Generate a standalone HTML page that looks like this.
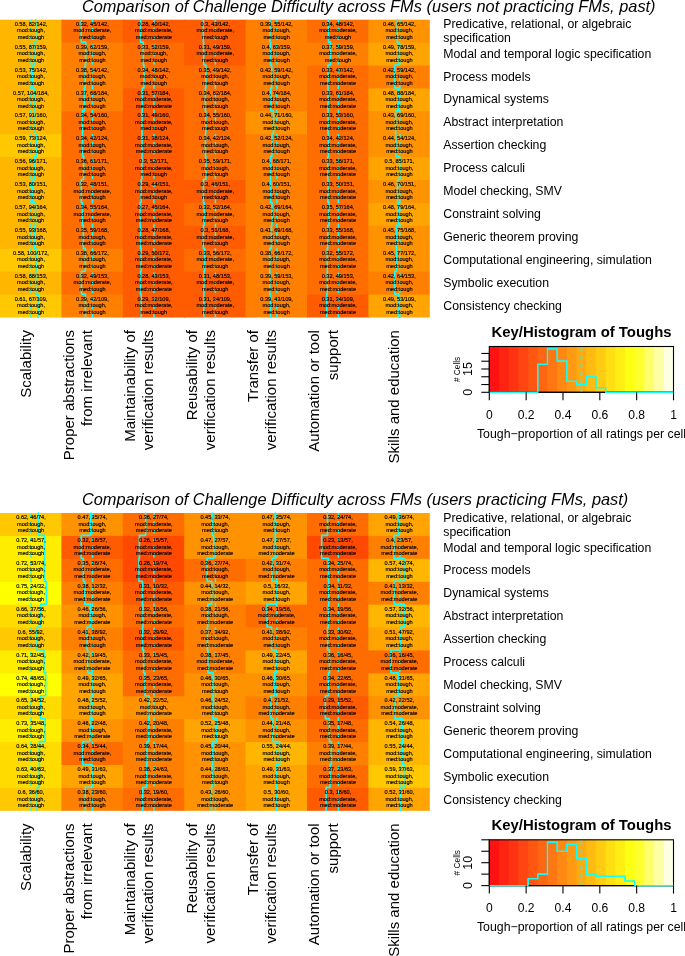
<!DOCTYPE html>
<html><head><meta charset="utf-8"><style>
html,body{margin:0;padding:0;background:#fff;width:685px;height:956px;overflow:hidden}
svg{display:block;font-family:"Liberation Sans",sans-serif;will-change:transform}
</style></head><body>
<svg width="685" height="956" viewBox="0 0 685 956" font-family='"Liberation Sans", sans-serif'>
<rect width="685" height="956" fill="#fff"/>
<text x="81.9" y="11.6" font-size="16.36" font-style="italic">Comparison of Challenge Difficulty across FMs (users not practicing FMs, past)</text>
<rect x="0" y="19.7" width="62.4" height="23.91" fill="#FFB600"/>
<rect x="61.4" y="19.7" width="62.4" height="23.91" fill="#FF6D00"/>
<rect x="122.8" y="19.7" width="62.4" height="23.91" fill="#FF5B00"/>
<rect x="184.2" y="19.7" width="62.4" height="23.91" fill="#FF5B00"/>
<rect x="245.6" y="19.7" width="62.4" height="23.91" fill="#FF8000"/>
<rect x="307" y="19.7" width="62.4" height="23.91" fill="#FF6D00"/>
<rect x="368.4" y="19.7" width="61.4" height="23.91" fill="#FF9200"/>
<rect x="0" y="42.61" width="62.4" height="23.91" fill="#FFB600"/>
<rect x="61.4" y="42.61" width="62.4" height="23.91" fill="#FF8000"/>
<rect x="122.8" y="42.61" width="62.4" height="23.91" fill="#FF6D00"/>
<rect x="184.2" y="42.61" width="62.4" height="23.91" fill="#FF5B00"/>
<rect x="245.6" y="42.61" width="62.4" height="23.91" fill="#FF8000"/>
<rect x="307" y="42.61" width="62.4" height="23.91" fill="#FF8000"/>
<rect x="368.4" y="42.61" width="61.4" height="23.91" fill="#FFA400"/>
<rect x="0" y="65.52" width="62.4" height="23.91" fill="#FFB600"/>
<rect x="61.4" y="65.52" width="62.4" height="23.91" fill="#FF8000"/>
<rect x="122.8" y="65.52" width="62.4" height="23.91" fill="#FF6D00"/>
<rect x="184.2" y="65.52" width="62.4" height="23.91" fill="#FF6D00"/>
<rect x="245.6" y="65.52" width="62.4" height="23.91" fill="#FF8000"/>
<rect x="307" y="65.52" width="62.4" height="23.91" fill="#FF6D00"/>
<rect x="368.4" y="65.52" width="61.4" height="23.91" fill="#FF8000"/>
<rect x="0" y="88.42" width="62.4" height="23.91" fill="#FFB600"/>
<rect x="61.4" y="88.42" width="62.4" height="23.91" fill="#FF8000"/>
<rect x="122.8" y="88.42" width="62.4" height="23.91" fill="#FF5B00"/>
<rect x="184.2" y="88.42" width="62.4" height="23.91" fill="#FF6D00"/>
<rect x="245.6" y="88.42" width="62.4" height="23.91" fill="#FF8000"/>
<rect x="307" y="88.42" width="62.4" height="23.91" fill="#FF6D00"/>
<rect x="368.4" y="88.42" width="61.4" height="23.91" fill="#FFA400"/>
<rect x="0" y="111.33" width="62.4" height="23.91" fill="#FFB600"/>
<rect x="61.4" y="111.33" width="62.4" height="23.91" fill="#FF6D00"/>
<rect x="122.8" y="111.33" width="62.4" height="23.91" fill="#FF5B00"/>
<rect x="184.2" y="111.33" width="62.4" height="23.91" fill="#FF6D00"/>
<rect x="245.6" y="111.33" width="62.4" height="23.91" fill="#FF9200"/>
<rect x="307" y="111.33" width="62.4" height="23.91" fill="#FF6D00"/>
<rect x="368.4" y="111.33" width="61.4" height="23.91" fill="#FF9200"/>
<rect x="0" y="134.24" width="62.4" height="23.91" fill="#FFC800"/>
<rect x="61.4" y="134.24" width="62.4" height="23.91" fill="#FF6D00"/>
<rect x="122.8" y="134.24" width="62.4" height="23.91" fill="#FF5B00"/>
<rect x="184.2" y="134.24" width="62.4" height="23.91" fill="#FF6D00"/>
<rect x="245.6" y="134.24" width="62.4" height="23.91" fill="#FF8000"/>
<rect x="307" y="134.24" width="62.4" height="23.91" fill="#FF6D00"/>
<rect x="368.4" y="134.24" width="61.4" height="23.91" fill="#FF9200"/>
<rect x="0" y="157.15" width="62.4" height="23.91" fill="#FFB600"/>
<rect x="61.4" y="157.15" width="62.4" height="23.91" fill="#FF6D00"/>
<rect x="122.8" y="157.15" width="62.4" height="23.91" fill="#FF5B00"/>
<rect x="184.2" y="157.15" width="62.4" height="23.91" fill="#FF6D00"/>
<rect x="245.6" y="157.15" width="62.4" height="23.91" fill="#FF8000"/>
<rect x="307" y="157.15" width="62.4" height="23.91" fill="#FF6D00"/>
<rect x="368.4" y="157.15" width="61.4" height="23.91" fill="#FFA400"/>
<rect x="0" y="180.05" width="62.4" height="23.91" fill="#FFB600"/>
<rect x="61.4" y="180.05" width="62.4" height="23.91" fill="#FF6D00"/>
<rect x="122.8" y="180.05" width="62.4" height="23.91" fill="#FF5B00"/>
<rect x="184.2" y="180.05" width="62.4" height="23.91" fill="#FF5B00"/>
<rect x="245.6" y="180.05" width="62.4" height="23.91" fill="#FF8000"/>
<rect x="307" y="180.05" width="62.4" height="23.91" fill="#FF6D00"/>
<rect x="368.4" y="180.05" width="61.4" height="23.91" fill="#FF9200"/>
<rect x="0" y="202.96" width="62.4" height="23.91" fill="#FFB600"/>
<rect x="61.4" y="202.96" width="62.4" height="23.91" fill="#FF6D00"/>
<rect x="122.8" y="202.96" width="62.4" height="23.91" fill="#FF5B00"/>
<rect x="184.2" y="202.96" width="62.4" height="23.91" fill="#FF6D00"/>
<rect x="245.6" y="202.96" width="62.4" height="23.91" fill="#FF8000"/>
<rect x="307" y="202.96" width="62.4" height="23.91" fill="#FF6D00"/>
<rect x="368.4" y="202.96" width="61.4" height="23.91" fill="#FFA400"/>
<rect x="0" y="225.87" width="62.4" height="23.91" fill="#FFB600"/>
<rect x="61.4" y="225.87" width="62.4" height="23.91" fill="#FF6D00"/>
<rect x="122.8" y="225.87" width="62.4" height="23.91" fill="#FF5B00"/>
<rect x="184.2" y="225.87" width="62.4" height="23.91" fill="#FF5B00"/>
<rect x="245.6" y="225.87" width="62.4" height="23.91" fill="#FF8000"/>
<rect x="307" y="225.87" width="62.4" height="23.91" fill="#FF6D00"/>
<rect x="368.4" y="225.87" width="61.4" height="23.91" fill="#FF9200"/>
<rect x="0" y="248.78" width="62.4" height="23.91" fill="#FFC800"/>
<rect x="61.4" y="248.78" width="62.4" height="23.91" fill="#FF8000"/>
<rect x="122.8" y="248.78" width="62.4" height="23.91" fill="#FF5B00"/>
<rect x="184.2" y="248.78" width="62.4" height="23.91" fill="#FF6D00"/>
<rect x="245.6" y="248.78" width="62.4" height="23.91" fill="#FF8000"/>
<rect x="307" y="248.78" width="62.4" height="23.91" fill="#FF6D00"/>
<rect x="368.4" y="248.78" width="61.4" height="23.91" fill="#FF9200"/>
<rect x="0" y="271.68" width="62.4" height="23.91" fill="#FFB600"/>
<rect x="61.4" y="271.68" width="62.4" height="23.91" fill="#FF6D00"/>
<rect x="122.8" y="271.68" width="62.4" height="23.91" fill="#FF5B00"/>
<rect x="184.2" y="271.68" width="62.4" height="23.91" fill="#FF5B00"/>
<rect x="245.6" y="271.68" width="62.4" height="23.91" fill="#FF8000"/>
<rect x="307" y="271.68" width="62.4" height="23.91" fill="#FF6D00"/>
<rect x="368.4" y="271.68" width="61.4" height="23.91" fill="#FF8000"/>
<rect x="0" y="294.59" width="62.4" height="22.91" fill="#FFC800"/>
<rect x="61.4" y="294.59" width="62.4" height="22.91" fill="#FF8000"/>
<rect x="122.8" y="294.59" width="62.4" height="22.91" fill="#FF5B00"/>
<rect x="184.2" y="294.59" width="62.4" height="22.91" fill="#FF5B00"/>
<rect x="245.6" y="294.59" width="62.4" height="22.91" fill="#FF8000"/>
<rect x="307" y="294.59" width="62.4" height="22.91" fill="#FF5B00"/>
<rect x="368.4" y="294.59" width="61.4" height="22.91" fill="#FFA400"/>
<line x1="31" y1="317.5" x2="31" y2="19.7" stroke="#0FFFFF" stroke-width="1.5" stroke-dasharray="4.08,4.08"/>
<line x1="92.47" y1="317.5" x2="92.47" y2="19.7" stroke="#0FFFFF" stroke-width="1.5" stroke-dasharray="4.08,4.08"/>
<line x1="153.94" y1="317.5" x2="153.94" y2="19.7" stroke="#0FFFFF" stroke-width="1.5" stroke-dasharray="4.08,4.08"/>
<line x1="215.41" y1="317.5" x2="215.41" y2="19.7" stroke="#0FFFFF" stroke-width="1.5" stroke-dasharray="4.08,4.08"/>
<line x1="276.88" y1="317.5" x2="276.88" y2="19.7" stroke="#0FFFFF" stroke-width="1.5" stroke-dasharray="4.08,4.08"/>
<line x1="338.35" y1="317.5" x2="338.35" y2="19.7" stroke="#0FFFFF" stroke-width="1.5" stroke-dasharray="4.08,4.08"/>
<line x1="399.82" y1="317.5" x2="399.82" y2="19.7" stroke="#0FFFFF" stroke-width="1.5" stroke-dasharray="4.08,4.08"/>
<path d="M35.76,19.7 L35.76,42.11 L33.9,42.11 L33.9,65.02 L32.73,65.02 L32.73,87.92 L35,87.92 L35,110.83 L35.22,110.83 L35.22,133.74 L36.45,133.74 L36.45,156.65 L34.77,156.65 L34.77,179.55 L32.83,179.55 L32.83,202.46 L35.49,202.46 L35.49,225.37 L34.29,225.37 L34.29,248.28 L36,248.28 L36,271.18 L35.62,271.18 L35.62,294.09 L38.04,294.09 L38.04,317.5" fill="none" stroke="#0FFFFF" stroke-width="1.6" stroke-linecap="round" stroke-linejoin="round"/>
<path d="M81.23,19.7 L81.23,42.11 L85.71,42.11 L85.71,65.02 L85.12,65.02 L85.12,87.92 L84.46,87.92 L84.46,110.83 L82.49,110.83 L82.49,133.74 L82.57,133.74 L82.57,156.65 L83.67,156.65 L83.67,179.55 L81.29,179.55 L81.29,202.46 L82.36,202.46 L82.36,225.37 L83.33,225.37 L83.33,248.28 L85.33,248.28 L85.33,271.18 L81.43,271.18 L81.43,294.09 L85.43,294.09 L85.43,317.5" fill="none" stroke="#0FFFFF" stroke-width="1.6" stroke-linecap="round" stroke-linejoin="round"/>
<path d="M140.54,19.7 L140.54,42.11 L143.32,42.11 L143.32,65.02 L143.99,65.02 L143.99,87.92 L142.26,87.92 L142.26,110.83 L142.04,110.83 L142.04,133.74 L142.06,133.74 L142.06,156.65 L141.91,156.65 L141.91,179.55 L141.13,179.55 L141.13,202.46 L140.09,202.46 L140.09,225.37 L140.42,225.37 L140.42,248.28 L141.09,248.28 L141.09,271.18 L140.5,271.18 L140.5,294.09 L141.27,294.09 L141.27,317.5" fill="none" stroke="#0FFFFF" stroke-width="1.6" stroke-linecap="round" stroke-linejoin="round"/>
<path d="M203.3,19.7 L203.3,42.11 L203.63,42.11 L203.63,65.02 L205.9,65.02 L205.9,87.92 L205.4,87.92 L205.4,110.83 L205.82,110.83 L205.82,133.74 L205.51,133.74 L205.51,156.65 L205.89,156.65 L205.89,179.55 L203.41,179.55 L203.41,202.46 L204.18,202.46 L204.18,225.37 L203.35,225.37 L203.35,248.28 L204.7,248.28 L204.7,271.18 L203.97,271.18 L203.97,294.09 L203.86,294.09 L203.86,317.5" fill="none" stroke="#0FFFFF" stroke-width="1.6" stroke-linecap="round" stroke-linejoin="round"/>
<path d="M269.96,19.7 L269.96,42.11 L270.51,42.11 L270.51,65.02 L271.69,65.02 L271.69,87.92 L270.87,87.92 L270.87,110.83 L273.43,110.83 L273.43,133.74 L271.93,133.74 L271.93,156.65 L270.6,156.65 L270.6,179.55 L270.58,179.55 L270.58,202.46 L272.01,202.46 L272.01,225.37 L271.4,225.37 L271.4,248.28 L269.74,248.28 L269.74,271.18 L269.86,271.18 L269.86,294.09 L270.4,294.09 L270.4,317.5" fill="none" stroke="#0FFFFF" stroke-width="1.6" stroke-linecap="round" stroke-linejoin="round"/>
<path d="M328.4,19.7 L328.4,42.11 L330.43,42.11 L330.43,65.02 L327.97,65.02 L327.97,87.92 L328.01,87.92 L328.01,110.83 L327.99,110.83 L327.99,133.74 L328.45,133.74 L328.45,156.65 L327.76,156.65 L327.76,179.55 L327.98,179.55 L327.98,202.46 L328.99,202.46 L328.99,225.37 L327.75,225.37 L327.75,248.28 L327.28,248.28 L327.28,271.18 L327.31,271.18 L327.31,294.09 L326.8,294.09 L326.8,317.5" fill="none" stroke="#0FFFFF" stroke-width="1.6" stroke-linecap="round" stroke-linejoin="round"/>
<path d="M397.23,19.7 L397.23,42.11 L399.24,42.11 L399.24,65.02 L394.63,65.02 L394.63,87.92 L398.49,87.92 L398.49,110.83 L395.6,110.83 L395.6,133.74 L395.86,133.74 L395.86,156.65 L399.64,156.65 L399.64,179.55 L397.58,179.55 L397.58,202.46 L398.7,202.46 L398.7,225.37 L396.53,225.37 L396.53,248.28 L396.61,248.28 L396.61,271.18 L394.8,271.18 L394.8,294.09 L398.98,294.09 L398.98,317.5" fill="none" stroke="#0FFFFF" stroke-width="1.6" stroke-linecap="round" stroke-linejoin="round"/>
<g font-size="5.6" text-anchor="middle" fill="#000" stroke="#000" stroke-width="0.15">
<text x="31" y="25.85">0.58, 82/142,</text>
<text x="31" y="32.35">mod:tough,</text>
<text x="31" y="38.85">med:tough</text>
<text x="92.4" y="25.85">0.32, 45/142,</text>
<text x="92.4" y="32.35">mod:moderate,</text>
<text x="92.4" y="38.85">med:tough</text>
<text x="153.8" y="25.85">0.28, 40/142,</text>
<text x="153.8" y="32.35">mod:moderate,</text>
<text x="153.8" y="38.85">med:moderate</text>
<text x="215.2" y="25.85">0.3, 43/142,</text>
<text x="215.2" y="32.35">mod:moderate,</text>
<text x="215.2" y="38.85">med:tough</text>
<text x="276.6" y="25.85">0.39, 55/142,</text>
<text x="276.6" y="32.35">mod:tough,</text>
<text x="276.6" y="38.85">med:tough</text>
<text x="338" y="25.85">0.34, 48/142,</text>
<text x="338" y="32.35">mod:moderate,</text>
<text x="338" y="38.85">med:tough</text>
<text x="399.4" y="25.85">0.46, 65/142,</text>
<text x="399.4" y="32.35">mod:tough,</text>
<text x="399.4" y="38.85">med:tough</text>
<text x="31" y="48.76">0.55, 87/159,</text>
<text x="31" y="55.26">mod:tough,</text>
<text x="31" y="61.76">med:tough</text>
<text x="92.4" y="48.76">0.39, 62/159,</text>
<text x="92.4" y="55.26">mod:tough,</text>
<text x="92.4" y="61.76">med:tough</text>
<text x="153.8" y="48.76">0.33, 52/159,</text>
<text x="153.8" y="55.26">mod:tough,</text>
<text x="153.8" y="61.76">med:tough</text>
<text x="215.2" y="48.76">0.31, 49/159,</text>
<text x="215.2" y="55.26">mod:moderate,</text>
<text x="215.2" y="61.76">med:tough</text>
<text x="276.6" y="48.76">0.4, 63/159,</text>
<text x="276.6" y="55.26">mod:tough,</text>
<text x="276.6" y="61.76">med:tough</text>
<text x="338" y="48.76">0.37, 59/159,</text>
<text x="338" y="55.26">mod:moderate,</text>
<text x="338" y="61.76">med:tough</text>
<text x="399.4" y="48.76">0.49, 78/159,</text>
<text x="399.4" y="55.26">mod:tough,</text>
<text x="399.4" y="61.76">med:tough</text>
<text x="31" y="71.67">0.53, 75/142,</text>
<text x="31" y="78.17">mod:tough,</text>
<text x="31" y="84.67">med:tough</text>
<text x="92.4" y="71.67">0.38, 54/142,</text>
<text x="92.4" y="78.17">mod:tough,</text>
<text x="92.4" y="84.67">med:tough</text>
<text x="153.8" y="71.67">0.34, 48/142,</text>
<text x="153.8" y="78.17">mod:tough,</text>
<text x="153.8" y="84.67">med:tough</text>
<text x="215.2" y="71.67">0.35, 49/142,</text>
<text x="215.2" y="78.17">mod:tough,</text>
<text x="215.2" y="84.67">med:tough</text>
<text x="276.6" y="71.67">0.42, 59/142,</text>
<text x="276.6" y="78.17">mod:tough,</text>
<text x="276.6" y="84.67">med:tough</text>
<text x="338" y="71.67">0.33, 47/142,</text>
<text x="338" y="78.17">mod:moderate,</text>
<text x="338" y="84.67">med:moderate</text>
<text x="399.4" y="71.67">0.42, 59/142,</text>
<text x="399.4" y="78.17">mod:tough,</text>
<text x="399.4" y="84.67">med:tough</text>
<text x="31" y="94.58">0.57, 104/184,</text>
<text x="31" y="101.08">mod:tough,</text>
<text x="31" y="107.58">med:tough</text>
<text x="92.4" y="94.58">0.37, 68/184,</text>
<text x="92.4" y="101.08">mod:tough,</text>
<text x="92.4" y="107.58">med:tough</text>
<text x="153.8" y="94.58">0.31, 57/184,</text>
<text x="153.8" y="101.08">mod:moderate,</text>
<text x="153.8" y="107.58">med:moderate</text>
<text x="215.2" y="94.58">0.34, 62/184,</text>
<text x="215.2" y="101.08">mod:tough,</text>
<text x="215.2" y="107.58">med:tough</text>
<text x="276.6" y="94.58">0.4, 74/184,</text>
<text x="276.6" y="101.08">mod:tough,</text>
<text x="276.6" y="107.58">med:tough</text>
<text x="338" y="94.58">0.33, 61/184,</text>
<text x="338" y="101.08">mod:moderate,</text>
<text x="338" y="107.58">med:moderate</text>
<text x="399.4" y="94.58">0.48, 88/184,</text>
<text x="399.4" y="101.08">mod:tough,</text>
<text x="399.4" y="107.58">med:tough</text>
<text x="31" y="117.48">0.57, 91/160,</text>
<text x="31" y="123.98">mod:tough,</text>
<text x="31" y="130.48">med:tough</text>
<text x="92.4" y="117.48">0.34, 54/160,</text>
<text x="92.4" y="123.98">mod:tough,</text>
<text x="92.4" y="130.48">med:tough</text>
<text x="153.8" y="117.48">0.31, 49/160,</text>
<text x="153.8" y="123.98">mod:moderate,</text>
<text x="153.8" y="130.48">med:tough</text>
<text x="215.2" y="117.48">0.34, 55/160,</text>
<text x="215.2" y="123.98">mod:tough,</text>
<text x="215.2" y="130.48">med:tough</text>
<text x="276.6" y="117.48">0.44, 71/160,</text>
<text x="276.6" y="123.98">mod:tough,</text>
<text x="276.6" y="130.48">med:tough</text>
<text x="338" y="117.48">0.33, 53/160,</text>
<text x="338" y="123.98">mod:moderate,</text>
<text x="338" y="130.48">med:moderate</text>
<text x="399.4" y="117.48">0.43, 69/160,</text>
<text x="399.4" y="123.98">mod:tough,</text>
<text x="399.4" y="130.48">med:tough</text>
<text x="31" y="140.39">0.59, 73/124,</text>
<text x="31" y="146.89">mod:tough,</text>
<text x="31" y="153.39">med:tough</text>
<text x="92.4" y="140.39">0.34, 42/124,</text>
<text x="92.4" y="146.89">mod:tough,</text>
<text x="92.4" y="153.39">med:tough</text>
<text x="153.8" y="140.39">0.31, 38/124,</text>
<text x="153.8" y="146.89">mod:moderate,</text>
<text x="153.8" y="153.39">med:moderate</text>
<text x="215.2" y="140.39">0.34, 42/124,</text>
<text x="215.2" y="146.89">mod:tough,</text>
<text x="215.2" y="153.39">med:tough</text>
<text x="276.6" y="140.39">0.42, 52/124,</text>
<text x="276.6" y="146.89">mod:tough,</text>
<text x="276.6" y="153.39">med:tough</text>
<text x="338" y="140.39">0.34, 42/124,</text>
<text x="338" y="146.89">mod:moderate,</text>
<text x="338" y="153.39">med:moderate</text>
<text x="399.4" y="140.39">0.44, 54/124,</text>
<text x="399.4" y="146.89">mod:tough,</text>
<text x="399.4" y="153.39">med:tough</text>
<text x="31" y="163.3">0.56, 96/171,</text>
<text x="31" y="169.8">mod:tough,</text>
<text x="31" y="176.3">med:tough</text>
<text x="92.4" y="163.3">0.36, 61/171,</text>
<text x="92.4" y="169.8">mod:tough,</text>
<text x="92.4" y="176.3">med:tough</text>
<text x="153.8" y="163.3">0.3, 52/171,</text>
<text x="153.8" y="169.8">mod:moderate,</text>
<text x="153.8" y="176.3">med:tough</text>
<text x="215.2" y="163.3">0.35, 59/171,</text>
<text x="215.2" y="169.8">mod:tough,</text>
<text x="215.2" y="176.3">med:tough</text>
<text x="276.6" y="163.3">0.4, 68/171,</text>
<text x="276.6" y="169.8">mod:tough,</text>
<text x="276.6" y="176.3">med:tough</text>
<text x="338" y="163.3">0.33, 56/171,</text>
<text x="338" y="169.8">mod:moderate,</text>
<text x="338" y="176.3">med:moderate</text>
<text x="399.4" y="163.3">0.5, 85/171,</text>
<text x="399.4" y="169.8">mod:tough,</text>
<text x="399.4" y="176.3">med:tough</text>
<text x="31" y="186.21">0.53, 80/151,</text>
<text x="31" y="192.71">mod:tough,</text>
<text x="31" y="199.21">med:tough</text>
<text x="92.4" y="186.21">0.32, 48/151,</text>
<text x="92.4" y="192.71">mod:moderate,</text>
<text x="92.4" y="199.21">med:tough</text>
<text x="153.8" y="186.21">0.29, 44/151,</text>
<text x="153.8" y="192.71">mod:moderate,</text>
<text x="153.8" y="199.21">med:tough</text>
<text x="215.2" y="186.21">0.3, 46/151,</text>
<text x="215.2" y="192.71">mod:moderate,</text>
<text x="215.2" y="199.21">med:tough</text>
<text x="276.6" y="186.21">0.4, 60/151,</text>
<text x="276.6" y="192.71">mod:tough,</text>
<text x="276.6" y="199.21">med:tough</text>
<text x="338" y="186.21">0.33, 50/151,</text>
<text x="338" y="192.71">mod:moderate,</text>
<text x="338" y="199.21">med:moderate</text>
<text x="399.4" y="186.21">0.46, 70/151,</text>
<text x="399.4" y="192.71">mod:tough,</text>
<text x="399.4" y="199.21">med:tough</text>
<text x="31" y="209.12">0.57, 94/164,</text>
<text x="31" y="215.62">mod:tough,</text>
<text x="31" y="222.12">med:tough</text>
<text x="92.4" y="209.12">0.34, 55/164,</text>
<text x="92.4" y="215.62">mod:moderate,</text>
<text x="92.4" y="222.12">med:tough</text>
<text x="153.8" y="209.12">0.27, 45/164,</text>
<text x="153.8" y="215.62">mod:moderate,</text>
<text x="153.8" y="222.12">med:moderate</text>
<text x="215.2" y="209.12">0.32, 52/164,</text>
<text x="215.2" y="215.62">mod:moderate,</text>
<text x="215.2" y="222.12">med:tough</text>
<text x="276.6" y="209.12">0.42, 69/164,</text>
<text x="276.6" y="215.62">mod:tough,</text>
<text x="276.6" y="222.12">med:tough</text>
<text x="338" y="209.12">0.35, 57/164,</text>
<text x="338" y="215.62">mod:moderate,</text>
<text x="338" y="222.12">med:moderate</text>
<text x="399.4" y="209.12">0.48, 79/164,</text>
<text x="399.4" y="215.62">mod:tough,</text>
<text x="399.4" y="222.12">med:tough</text>
<text x="31" y="232.02">0.55, 93/168,</text>
<text x="31" y="238.52">mod:tough,</text>
<text x="31" y="245.02">med:tough</text>
<text x="92.4" y="232.02">0.35, 59/168,</text>
<text x="92.4" y="238.52">mod:tough,</text>
<text x="92.4" y="245.02">med:tough</text>
<text x="153.8" y="232.02">0.28, 47/168,</text>
<text x="153.8" y="238.52">mod:moderate,</text>
<text x="153.8" y="245.02">med:moderate</text>
<text x="215.2" y="232.02">0.3, 51/168,</text>
<text x="215.2" y="238.52">mod:moderate,</text>
<text x="215.2" y="245.02">med:tough</text>
<text x="276.6" y="232.02">0.41, 69/168,</text>
<text x="276.6" y="238.52">mod:tough,</text>
<text x="276.6" y="245.02">med:tough</text>
<text x="338" y="232.02">0.33, 55/168,</text>
<text x="338" y="238.52">mod:moderate,</text>
<text x="338" y="245.02">med:moderate</text>
<text x="399.4" y="232.02">0.45, 75/168,</text>
<text x="399.4" y="238.52">mod:tough,</text>
<text x="399.4" y="245.02">med:tough</text>
<text x="31" y="254.93">0.58, 100/172,</text>
<text x="31" y="261.43">mod:tough,</text>
<text x="31" y="267.93">med:tough</text>
<text x="92.4" y="254.93">0.38, 66/172,</text>
<text x="92.4" y="261.43">mod:tough,</text>
<text x="92.4" y="267.93">med:tough</text>
<text x="153.8" y="254.93">0.29, 50/172,</text>
<text x="153.8" y="261.43">mod:moderate,</text>
<text x="153.8" y="267.93">med:moderate</text>
<text x="215.2" y="254.93">0.33, 56/172,</text>
<text x="215.2" y="261.43">mod:moderate,</text>
<text x="215.2" y="267.93">med:tough</text>
<text x="276.6" y="254.93">0.38, 66/172,</text>
<text x="276.6" y="261.43">mod:tough,</text>
<text x="276.6" y="267.93">med:tough</text>
<text x="338" y="254.93">0.32, 55/172,</text>
<text x="338" y="261.43">mod:moderate,</text>
<text x="338" y="267.93">med:moderate</text>
<text x="399.4" y="254.93">0.45, 77/172,</text>
<text x="399.4" y="261.43">mod:tough,</text>
<text x="399.4" y="267.93">med:tough</text>
<text x="31" y="277.84">0.58, 88/153,</text>
<text x="31" y="284.34">mod:tough,</text>
<text x="31" y="290.84">med:tough</text>
<text x="92.4" y="277.84">0.32, 49/153,</text>
<text x="92.4" y="284.34">mod:moderate,</text>
<text x="92.4" y="290.84">med:tough</text>
<text x="153.8" y="277.84">0.28, 43/153,</text>
<text x="153.8" y="284.34">mod:moderate,</text>
<text x="153.8" y="290.84">med:moderate</text>
<text x="215.2" y="277.84">0.31, 48/153,</text>
<text x="215.2" y="284.34">mod:moderate,</text>
<text x="215.2" y="290.84">med:tough</text>
<text x="276.6" y="277.84">0.39, 59/153,</text>
<text x="276.6" y="284.34">mod:tough,</text>
<text x="276.6" y="290.84">med:tough</text>
<text x="338" y="277.84">0.32, 49/153,</text>
<text x="338" y="284.34">mod:moderate,</text>
<text x="338" y="290.84">med:moderate</text>
<text x="399.4" y="277.84">0.42, 64/153,</text>
<text x="399.4" y="284.34">mod:tough,</text>
<text x="399.4" y="290.84">med:tough</text>
<text x="31" y="300.75">0.61, 67/109,</text>
<text x="31" y="307.25">mod:tough,</text>
<text x="31" y="313.75">med:tough</text>
<text x="92.4" y="300.75">0.39, 42/109,</text>
<text x="92.4" y="307.25">mod:tough,</text>
<text x="92.4" y="313.75">med:tough</text>
<text x="153.8" y="300.75">0.29, 32/109,</text>
<text x="153.8" y="307.25">mod:moderate,</text>
<text x="153.8" y="313.75">med:tough</text>
<text x="215.2" y="300.75">0.31, 34/109,</text>
<text x="215.2" y="307.25">mod:moderate,</text>
<text x="215.2" y="313.75">med:tough</text>
<text x="276.6" y="300.75">0.39, 43/109,</text>
<text x="276.6" y="307.25">mod:tough,</text>
<text x="276.6" y="313.75">med:tough</text>
<text x="338" y="300.75">0.31, 34/109,</text>
<text x="338" y="307.25">mod:moderate,</text>
<text x="338" y="313.75">med:moderate</text>
<text x="399.4" y="300.75">0.49, 53/109,</text>
<text x="399.4" y="307.25">mod:tough,</text>
<text x="399.4" y="313.75">med:tough</text>
</g>
<g font-size="12.27" fill="#000">
<text x="443.3" y="27.8">Predicative, relational, or algebraic</text>
<text x="443.3" y="41.7">specification</text>
<text x="443.3" y="57.66">Modal and temporal logic specification</text>
<text x="443.3" y="80.57">Process models</text>
<text x="443.3" y="103.48">Dynamical systems</text>
<text x="443.3" y="126.38">Abstract interpretation</text>
<text x="443.3" y="149.29">Assertion checking</text>
<text x="443.3" y="172.2">Process calculi</text>
<text x="443.3" y="195.11">Model checking, SMV</text>
<text x="443.3" y="218.02">Constraint solving</text>
<text x="443.3" y="240.92">Generic theorem proving</text>
<text x="443.3" y="263.83">Computational engineering, simulation</text>
<text x="443.3" y="286.74">Symbolic execution</text>
<text x="443.3" y="309.65">Consistency checking</text>
</g>
<g font-size="15.0" fill="#000" text-anchor="end">
<text transform="translate(30.6,330.1) rotate(-90)">Scalability</text>
<text transform="translate(73.7,330.1) rotate(-90)">Proper abstractions</text>
<text transform="translate(92,330.1) rotate(-90)">from irrelevant</text>
<text transform="translate(135.1,330.1) rotate(-90)">Maintainability of</text>
<text transform="translate(153.4,330.1) rotate(-90)">verification results</text>
<text transform="translate(196.5,330.1) rotate(-90)">Reusability of</text>
<text transform="translate(214.8,330.1) rotate(-90)">verification results</text>
<text transform="translate(257.9,330.1) rotate(-90)">Transfer of</text>
<text transform="translate(276.2,330.1) rotate(-90)">verification results</text>
<text transform="translate(319.3,330.1) rotate(-90)">Automation or tool</text>
<text transform="translate(337.6,330.1) rotate(-90)">support</text>
<text transform="translate(399,330.1) rotate(-90)">Skills and education</text>
</g>
<rect x="489.3" y="346.5" width="10.69" height="45.8" fill="#FF1212"/>
<rect x="498.99" y="346.5" width="10.69" height="45.8" fill="#FF2312"/>
<rect x="508.69" y="346.5" width="10.69" height="45.8" fill="#FF3312"/>
<rect x="518.38" y="346.5" width="10.69" height="45.8" fill="#FF4512"/>
<rect x="528.08" y="346.5" width="10.69" height="45.8" fill="#FF5612"/>
<rect x="537.77" y="346.5" width="10.69" height="45.8" fill="#FF6612"/>
<rect x="547.47" y="346.5" width="10.69" height="45.8" fill="#FF7712"/>
<rect x="557.16" y="346.5" width="10.69" height="45.8" fill="#FF8912"/>
<rect x="566.86" y="346.5" width="10.69" height="45.8" fill="#FF9A12"/>
<rect x="576.55" y="346.5" width="10.69" height="45.8" fill="#FFAA12"/>
<rect x="586.25" y="346.5" width="10.69" height="45.8" fill="#FFBB12"/>
<rect x="595.94" y="346.5" width="10.69" height="45.8" fill="#FFCC12"/>
<rect x="605.64" y="346.5" width="10.69" height="45.8" fill="#FFDE12"/>
<rect x="615.33" y="346.5" width="10.69" height="45.8" fill="#FFEE12"/>
<rect x="625.03" y="346.5" width="10.69" height="45.8" fill="#FFFF12"/>
<rect x="634.72" y="346.5" width="10.69" height="45.8" fill="#FFFF30"/>
<rect x="644.42" y="346.5" width="10.69" height="45.8" fill="#FFFF6B"/>
<rect x="654.11" y="346.5" width="10.69" height="45.8" fill="#FFFFA6"/>
<rect x="663.81" y="346.5" width="9.69" height="45.8" fill="#FFFFE1"/>
<rect x="489.3" y="346.5" width="184.2" height="45.8" fill="none" stroke="#000" stroke-width="1.1"/>
<line x1="581.4" y1="392.3" x2="581.4" y2="346.5" stroke="#0FFFFF" stroke-width="1.5" stroke-dasharray="4.08,4.08"/>
<path d="M489.3,392.3 L498.99,392.3 L498.99,392.3 L508.69,392.3 L508.69,392.3 L518.38,392.3 L518.38,392.3 L528.08,392.3 L528.08,392.3 L537.77,392.3 L537.77,364.33 L547.47,364.33 L547.47,348.79 L557.16,348.79 L557.16,361.22 L566.86,361.22 L566.86,381.42 L576.55,381.42 L576.55,384.53 L586.25,384.53 L586.25,376.76 L595.94,376.76 L595.94,387.64 L605.64,387.64 L605.64,392.3 L615.33,392.3 L615.33,392.3 L625.03,392.3 L625.03,392.3 L634.72,392.3 L634.72,392.3 L644.42,392.3 L644.42,392.3 L654.11,392.3 L654.11,392.3 L663.81,392.3 L663.81,392.3 L673.5,392.3 L673.5,392.3" fill="none" stroke="#0FFFFF" stroke-width="1.2"/>
<line x1="489.3" y1="392.3" x2="489.3" y2="353.45" stroke="#000" stroke-width="1.1"/>
<line x1="481.3" y1="392.3" x2="489.3" y2="392.3" stroke="#000" stroke-width="1.1"/>
<line x1="481.3" y1="384.53" x2="489.3" y2="384.53" stroke="#000" stroke-width="1.1"/>
<line x1="481.3" y1="376.76" x2="489.3" y2="376.76" stroke="#000" stroke-width="1.1"/>
<line x1="481.3" y1="368.99" x2="489.3" y2="368.99" stroke="#000" stroke-width="1.1"/>
<line x1="481.3" y1="361.22" x2="489.3" y2="361.22" stroke="#000" stroke-width="1.1"/>
<line x1="481.3" y1="353.45" x2="489.3" y2="353.45" stroke="#000" stroke-width="1.1"/>
<text transform="translate(471.5,392.3) rotate(-90)" font-size="12.5" text-anchor="middle">0</text>
<text transform="translate(471.5,368.99) rotate(-90)" font-size="12.5" text-anchor="middle">15</text>
<text transform="translate(459.8,369.4) rotate(-90)" font-size="8.3" text-anchor="middle"># Cells</text>
<line x1="489.3" y1="392.3" x2="673.5" y2="392.3" stroke="#000" stroke-width="1.1"/>
<path d="M489.3,392.3 L498.99,392.3 L498.99,392.3 L508.69,392.3 L508.69,392.3 L518.38,392.3 L518.38,392.3 L528.08,392.3 L528.08,392.3 L537.77,392.3 L537.77,364.33 L547.47,364.33 L547.47,348.79 L557.16,348.79 L557.16,361.22 L566.86,361.22 L566.86,381.42 L576.55,381.42 L576.55,384.53 L586.25,384.53 L586.25,376.76 L595.94,376.76 L595.94,387.64 L605.64,387.64 L605.64,392.3 L615.33,392.3 L615.33,392.3 L625.03,392.3 L625.03,392.3 L634.72,392.3 L634.72,392.3 L644.42,392.3 L644.42,392.3 L654.11,392.3 L654.11,392.3 L663.81,392.3 L663.81,392.3 L673.5,392.3 L673.5,392.3" fill="none" stroke="#0FFFFF" stroke-width="1.2"/>
<line x1="489.3" y1="392.3" x2="489.3" y2="400.3" stroke="#000" stroke-width="1.1"/>
<text x="489.3" y="418.6" font-size="12.1" text-anchor="middle">0</text>
<line x1="526.14" y1="392.3" x2="526.14" y2="400.3" stroke="#000" stroke-width="1.1"/>
<text x="526.14" y="418.6" font-size="12.1" text-anchor="middle">0.2</text>
<line x1="562.98" y1="392.3" x2="562.98" y2="400.3" stroke="#000" stroke-width="1.1"/>
<text x="562.98" y="418.6" font-size="12.1" text-anchor="middle">0.4</text>
<line x1="599.82" y1="392.3" x2="599.82" y2="400.3" stroke="#000" stroke-width="1.1"/>
<text x="599.82" y="418.6" font-size="12.1" text-anchor="middle">0.6</text>
<line x1="636.66" y1="392.3" x2="636.66" y2="400.3" stroke="#000" stroke-width="1.1"/>
<text x="636.66" y="418.6" font-size="12.1" text-anchor="middle">0.8</text>
<line x1="673.5" y1="392.3" x2="673.5" y2="400.3" stroke="#000" stroke-width="1.1"/>
<text x="673.5" y="418.6" font-size="12.1" text-anchor="middle">1</text>
<text x="581.5" y="437.8" font-size="12.32" text-anchor="middle">Tough−proportion of all ratings per cell</text>
<text x="581.5" y="336.6" font-size="14.9" font-weight="bold" text-anchor="middle">Key/Histogram of Toughs</text>
<text x="81.9" y="504.9" font-size="16.36" font-style="italic">Comparison of Challenge Difficulty across FMs (users practicing FMs, past)</text>
<rect x="0" y="513" width="62.4" height="23.91" fill="#FFC800"/>
<rect x="61.4" y="513" width="62.4" height="23.91" fill="#FF9200"/>
<rect x="122.8" y="513" width="62.4" height="23.91" fill="#FF6D00"/>
<rect x="184.2" y="513" width="62.4" height="23.91" fill="#FF9200"/>
<rect x="245.6" y="513" width="62.4" height="23.91" fill="#FF9200"/>
<rect x="307" y="513" width="62.4" height="23.91" fill="#FF6D00"/>
<rect x="368.4" y="513" width="61.4" height="23.91" fill="#FFA400"/>
<rect x="0" y="535.91" width="62.4" height="23.91" fill="#FFED00"/>
<rect x="61.4" y="535.91" width="62.4" height="23.91" fill="#FF5B00"/>
<rect x="122.8" y="535.91" width="62.4" height="23.91" fill="#FF4900"/>
<rect x="184.2" y="535.91" width="62.4" height="23.91" fill="#FF9200"/>
<rect x="245.6" y="535.91" width="62.4" height="23.91" fill="#FF9200"/>
<rect x="307" y="535.91" width="62.4" height="23.91" fill="#FF4900"/>
<rect x="368.4" y="535.91" width="61.4" height="23.91" fill="#FF8000"/>
<rect x="0" y="558.82" width="62.4" height="23.91" fill="#FFED00"/>
<rect x="61.4" y="558.82" width="62.4" height="23.91" fill="#FF6D00"/>
<rect x="122.8" y="558.82" width="62.4" height="23.91" fill="#FF4900"/>
<rect x="184.2" y="558.82" width="62.4" height="23.91" fill="#FF6D00"/>
<rect x="245.6" y="558.82" width="62.4" height="23.91" fill="#FF8000"/>
<rect x="307" y="558.82" width="62.4" height="23.91" fill="#FF6D00"/>
<rect x="368.4" y="558.82" width="61.4" height="23.91" fill="#FFB600"/>
<rect x="0" y="581.72" width="62.4" height="23.91" fill="#FFFF00"/>
<rect x="61.4" y="581.72" width="62.4" height="23.91" fill="#FF8000"/>
<rect x="122.8" y="581.72" width="62.4" height="23.91" fill="#FF5B00"/>
<rect x="184.2" y="581.72" width="62.4" height="23.91" fill="#FF9200"/>
<rect x="245.6" y="581.72" width="62.4" height="23.91" fill="#FFA400"/>
<rect x="307" y="581.72" width="62.4" height="23.91" fill="#FF6D00"/>
<rect x="368.4" y="581.72" width="61.4" height="23.91" fill="#FF8000"/>
<rect x="0" y="604.63" width="62.4" height="23.91" fill="#FFDB00"/>
<rect x="61.4" y="604.63" width="62.4" height="23.91" fill="#FF9200"/>
<rect x="122.8" y="604.63" width="62.4" height="23.91" fill="#FF6D00"/>
<rect x="184.2" y="604.63" width="62.4" height="23.91" fill="#FF8000"/>
<rect x="245.6" y="604.63" width="62.4" height="23.91" fill="#FF6D00"/>
<rect x="307" y="604.63" width="62.4" height="23.91" fill="#FF6D00"/>
<rect x="368.4" y="604.63" width="61.4" height="23.91" fill="#FFB600"/>
<rect x="0" y="627.54" width="62.4" height="23.91" fill="#FFC800"/>
<rect x="61.4" y="627.54" width="62.4" height="23.91" fill="#FF8000"/>
<rect x="122.8" y="627.54" width="62.4" height="23.91" fill="#FF5B00"/>
<rect x="184.2" y="627.54" width="62.4" height="23.91" fill="#FF8000"/>
<rect x="245.6" y="627.54" width="62.4" height="23.91" fill="#FF8000"/>
<rect x="307" y="627.54" width="62.4" height="23.91" fill="#FF6D00"/>
<rect x="368.4" y="627.54" width="61.4" height="23.91" fill="#FFA400"/>
<rect x="0" y="650.45" width="62.4" height="23.91" fill="#FFED00"/>
<rect x="61.4" y="650.45" width="62.4" height="23.91" fill="#FF9200"/>
<rect x="122.8" y="650.45" width="62.4" height="23.91" fill="#FF6D00"/>
<rect x="184.2" y="650.45" width="62.4" height="23.91" fill="#FF8000"/>
<rect x="245.6" y="650.45" width="62.4" height="23.91" fill="#FFA400"/>
<rect x="307" y="650.45" width="62.4" height="23.91" fill="#FF6D00"/>
<rect x="368.4" y="650.45" width="61.4" height="23.91" fill="#FF6D00"/>
<rect x="0" y="673.35" width="62.4" height="23.91" fill="#FFFF00"/>
<rect x="61.4" y="673.35" width="62.4" height="23.91" fill="#FFA400"/>
<rect x="122.8" y="673.35" width="62.4" height="23.91" fill="#FF6D00"/>
<rect x="184.2" y="673.35" width="62.4" height="23.91" fill="#FF9200"/>
<rect x="245.6" y="673.35" width="62.4" height="23.91" fill="#FF9200"/>
<rect x="307" y="673.35" width="62.4" height="23.91" fill="#FF6D00"/>
<rect x="368.4" y="673.35" width="61.4" height="23.91" fill="#FFA400"/>
<rect x="0" y="696.26" width="62.4" height="23.91" fill="#FFDB00"/>
<rect x="61.4" y="696.26" width="62.4" height="23.91" fill="#FFA400"/>
<rect x="122.8" y="696.26" width="62.4" height="23.91" fill="#FF9200"/>
<rect x="184.2" y="696.26" width="62.4" height="23.91" fill="#FF9200"/>
<rect x="245.6" y="696.26" width="62.4" height="23.91" fill="#FF8000"/>
<rect x="307" y="696.26" width="62.4" height="23.91" fill="#FF5B00"/>
<rect x="368.4" y="696.26" width="61.4" height="23.91" fill="#FF9200"/>
<rect x="0" y="719.17" width="62.4" height="23.91" fill="#FFED00"/>
<rect x="61.4" y="719.17" width="62.4" height="23.91" fill="#FF9200"/>
<rect x="122.8" y="719.17" width="62.4" height="23.91" fill="#FF8000"/>
<rect x="184.2" y="719.17" width="62.4" height="23.91" fill="#FFA400"/>
<rect x="245.6" y="719.17" width="62.4" height="23.91" fill="#FF9200"/>
<rect x="307" y="719.17" width="62.4" height="23.91" fill="#FF6D00"/>
<rect x="368.4" y="719.17" width="61.4" height="23.91" fill="#FFB600"/>
<rect x="0" y="742.08" width="62.4" height="23.91" fill="#FFDB00"/>
<rect x="61.4" y="742.08" width="62.4" height="23.91" fill="#FF6D00"/>
<rect x="122.8" y="742.08" width="62.4" height="23.91" fill="#FF8000"/>
<rect x="184.2" y="742.08" width="62.4" height="23.91" fill="#FF9200"/>
<rect x="245.6" y="742.08" width="62.4" height="23.91" fill="#FFB600"/>
<rect x="307" y="742.08" width="62.4" height="23.91" fill="#FF8000"/>
<rect x="368.4" y="742.08" width="61.4" height="23.91" fill="#FFB600"/>
<rect x="0" y="764.98" width="62.4" height="23.91" fill="#FFDB00"/>
<rect x="61.4" y="764.98" width="62.4" height="23.91" fill="#FFA400"/>
<rect x="122.8" y="764.98" width="62.4" height="23.91" fill="#FF8000"/>
<rect x="184.2" y="764.98" width="62.4" height="23.91" fill="#FF9200"/>
<rect x="245.6" y="764.98" width="62.4" height="23.91" fill="#FFA400"/>
<rect x="307" y="764.98" width="62.4" height="23.91" fill="#FF6D00"/>
<rect x="368.4" y="764.98" width="61.4" height="23.91" fill="#FFC800"/>
<rect x="0" y="787.89" width="62.4" height="22.91" fill="#FFC800"/>
<rect x="61.4" y="787.89" width="62.4" height="22.91" fill="#FF8000"/>
<rect x="122.8" y="787.89" width="62.4" height="22.91" fill="#FF6D00"/>
<rect x="184.2" y="787.89" width="62.4" height="22.91" fill="#FF9200"/>
<rect x="245.6" y="787.89" width="62.4" height="22.91" fill="#FFA400"/>
<rect x="307" y="787.89" width="62.4" height="22.91" fill="#FF5B00"/>
<rect x="368.4" y="787.89" width="61.4" height="22.91" fill="#FFA400"/>
<line x1="31" y1="810.8" x2="31" y2="513" stroke="#0FFFFF" stroke-width="1.5" stroke-dasharray="4.08,4.08"/>
<line x1="92.47" y1="810.8" x2="92.47" y2="513" stroke="#0FFFFF" stroke-width="1.5" stroke-dasharray="4.08,4.08"/>
<line x1="153.94" y1="810.8" x2="153.94" y2="513" stroke="#0FFFFF" stroke-width="1.5" stroke-dasharray="4.08,4.08"/>
<line x1="215.41" y1="810.8" x2="215.41" y2="513" stroke="#0FFFFF" stroke-width="1.5" stroke-dasharray="4.08,4.08"/>
<line x1="276.88" y1="810.8" x2="276.88" y2="513" stroke="#0FFFFF" stroke-width="1.5" stroke-dasharray="4.08,4.08"/>
<line x1="338.35" y1="810.8" x2="338.35" y2="513" stroke="#0FFFFF" stroke-width="1.5" stroke-dasharray="4.08,4.08"/>
<line x1="399.82" y1="810.8" x2="399.82" y2="513" stroke="#0FFFFF" stroke-width="1.5" stroke-dasharray="4.08,4.08"/>
<path d="M38.47,513 L38.47,535.41 L44.46,535.41 L44.46,558.32 L44.28,558.32 L44.28,581.22 L46.35,581.22 L46.35,604.13 L40.87,604.13 L40.87,627.04 L37.01,627.04 L37.01,649.95 L43.96,649.95 L43.96,672.85 L45.64,672.85 L45.64,695.76 L40.45,695.76 L40.45,718.67 L45.07,718.67 L45.07,741.58 L39.37,741.58 L39.37,764.48 L39.28,764.48 L39.28,787.39 L37.14,787.39 L37.14,810.8" fill="none" stroke="#0FFFFF" stroke-width="1.6" stroke-linecap="round" stroke-linejoin="round"/>
<path d="M90.81,513 L90.81,535.41 L81.16,535.41 L81.16,558.32 L83.34,558.32 L83.34,581.22 L84.79,581.22 L84.79,604.13 L90.28,604.13 L90.28,627.04 L87.13,627.04 L87.13,649.95 L87.69,649.95 L87.69,672.85 L92,672.85 L92,695.76 L91.29,695.76 L91.29,718.67 L89.91,718.67 L89.91,741.58 L82.7,741.58 L82.7,764.48 L91.98,764.48 L91.98,787.39 L85.31,787.39 L85.31,810.8" fill="none" stroke="#0FFFFF" stroke-width="1.6" stroke-linecap="round" stroke-linejoin="round"/>
<path d="M145.64,513 L145.64,535.41 L139.4,535.41 L139.4,558.32 L139,558.32 L139,581.22 L142.43,581.22 L142.43,604.13 L142.98,604.13 L142.98,627.04 L142.59,627.04 L142.59,649.95 L143.71,649.95 L143.71,672.85 L144.97,672.85 L144.97,695.76 L149.22,695.76 L149.22,718.67 L148.82,718.67 L148.82,741.58 L146.96,741.58 L146.96,764.48 L146.63,764.48 L146.63,787.39 L142.68,787.39 L142.68,810.8" fill="none" stroke="#0FFFFF" stroke-width="1.6" stroke-linecap="round" stroke-linejoin="round"/>
<path d="M212.09,513 L212.09,535.41 L213.79,535.41 L213.79,558.32 L207.11,558.32 L207.11,581.22 L211.57,581.22 L211.57,604.13 L207.74,604.13 L207.74,627.04 L207.4,627.04 L207.4,649.95 L207.91,649.95 L207.91,672.85 L213.05,672.85 L213.05,695.76 L213.05,695.76 L213.05,718.67 L216.69,718.67 L216.69,741.58 L212.62,741.58 L212.62,764.48 L212,764.48 L212,787.39 L211.32,787.39 L211.32,810.8" fill="none" stroke="#0FFFFF" stroke-width="1.6" stroke-linecap="round" stroke-linejoin="round"/>
<path d="M275.22,513 L275.22,535.41 L275.26,535.41 L275.26,558.32 L271.9,558.32 L271.9,581.22 L276.88,581.22 L276.88,604.13 L267.01,604.13 L267.01,627.04 L271.54,627.04 L271.54,649.95 L276.2,649.95 L276.2,672.85 L274.52,672.85 L274.52,695.76 L270.98,695.76 L270.98,718.67 L273.04,718.67 L273.04,741.58 L279.67,741.58 L279.67,764.48 L276.39,764.48 L276.39,787.39 L276.88,787.39 L276.88,810.8" fill="none" stroke="#0FFFFF" stroke-width="1.6" stroke-linecap="round" stroke-linejoin="round"/>
<path d="M327.56,513 L327.56,535.41 L321.65,535.41 L321.65,558.32 L328.39,558.32 L328.39,581.22 L328.76,581.22 L328.76,604.13 L328.48,604.13 L328.48,627.04 L327.67,627.04 L327.67,649.95 L329.48,649.95 L329.48,672.85 L328.43,672.85 L328.43,695.76 L325.36,695.76 L325.36,718.67 L329.4,718.67 L329.4,741.58 L331.37,741.58 L331.37,764.48 L330.07,764.48 L330.07,787.39 L326.07,787.39 L326.07,810.8" fill="none" stroke="#0FFFFF" stroke-width="1.6" stroke-linecap="round" stroke-linejoin="round"/>
<path d="M398.99,513 L398.99,535.41 L393.9,535.41 L393.9,558.32 L403.97,558.32 L403.97,581.22 L394.06,581.22 L394.06,604.13 L404.21,604.13 L404.21,627.04 L400.49,627.04 L400.49,649.95 L390.95,649.95 L390.95,672.85 L398.4,672.85 L398.4,695.76 L395.1,695.76 L395.1,718.67 L402.38,718.67 L402.38,741.58 L402.61,741.58 L402.61,764.48 L405.18,764.48 L405.18,787.39 L400.84,787.39 L400.84,810.8" fill="none" stroke="#0FFFFF" stroke-width="1.6" stroke-linecap="round" stroke-linejoin="round"/>
<g font-size="5.6" text-anchor="middle" fill="#000" stroke="#000" stroke-width="0.15">
<text x="31" y="519.15">0.62, 46/74,</text>
<text x="31" y="525.65">mod:tough,</text>
<text x="31" y="532.15">med:tough</text>
<text x="92.4" y="519.15">0.47, 35/74,</text>
<text x="92.4" y="525.65">mod:tough,</text>
<text x="92.4" y="532.15">med:tough</text>
<text x="153.8" y="519.15">0.36, 27/74,</text>
<text x="153.8" y="525.65">mod:moderate,</text>
<text x="153.8" y="532.15">med:moderate</text>
<text x="215.2" y="519.15">0.45, 33/74,</text>
<text x="215.2" y="525.65">mod:tough,</text>
<text x="215.2" y="532.15">med:tough</text>
<text x="276.6" y="519.15">0.47, 35/74,</text>
<text x="276.6" y="525.65">mod:tough,</text>
<text x="276.6" y="532.15">med:tough</text>
<text x="338" y="519.15">0.32, 24/74,</text>
<text x="338" y="525.65">mod:moderate,</text>
<text x="338" y="532.15">med:moderate</text>
<text x="399.4" y="519.15">0.49, 36/74,</text>
<text x="399.4" y="525.65">mod:tough,</text>
<text x="399.4" y="532.15">med:tough</text>
<text x="31" y="542.06">0.72, 41/57,</text>
<text x="31" y="548.56">mod:tough,</text>
<text x="31" y="555.06">med:tough</text>
<text x="92.4" y="542.06">0.32, 18/57,</text>
<text x="92.4" y="548.56">mod:moderate,</text>
<text x="92.4" y="555.06">med:moderate</text>
<text x="153.8" y="542.06">0.26, 15/57,</text>
<text x="153.8" y="548.56">mod:moderate,</text>
<text x="153.8" y="555.06">med:moderate</text>
<text x="215.2" y="542.06">0.47, 27/57,</text>
<text x="215.2" y="548.56">mod:tough,</text>
<text x="215.2" y="555.06">med:moderate</text>
<text x="276.6" y="542.06">0.47, 27/57,</text>
<text x="276.6" y="548.56">mod:tough,</text>
<text x="276.6" y="555.06">med:moderate</text>
<text x="338" y="542.06">0.23, 13/57,</text>
<text x="338" y="548.56">mod:moderate,</text>
<text x="338" y="555.06">med:moderate</text>
<text x="399.4" y="542.06">0.4, 23/57,</text>
<text x="399.4" y="548.56">mod:moderate,</text>
<text x="399.4" y="555.06">med:moderate</text>
<text x="31" y="564.97">0.72, 53/74,</text>
<text x="31" y="571.47">mod:tough,</text>
<text x="31" y="577.97">med:tough</text>
<text x="92.4" y="564.97">0.35, 26/74,</text>
<text x="92.4" y="571.47">mod:moderate,</text>
<text x="92.4" y="577.97">med:moderate</text>
<text x="153.8" y="564.97">0.26, 19/74,</text>
<text x="153.8" y="571.47">mod:moderate,</text>
<text x="153.8" y="577.97">med:moderate</text>
<text x="215.2" y="564.97">0.36, 27/74,</text>
<text x="215.2" y="571.47">mod:tough,</text>
<text x="215.2" y="577.97">med:tough</text>
<text x="276.6" y="564.97">0.42, 31/74,</text>
<text x="276.6" y="571.47">mod:tough,</text>
<text x="276.6" y="577.97">med:moderate</text>
<text x="338" y="564.97">0.34, 25/74,</text>
<text x="338" y="571.47">mod:moderate,</text>
<text x="338" y="577.97">med:moderate</text>
<text x="399.4" y="564.97">0.57, 42/74,</text>
<text x="399.4" y="571.47">mod:tough,</text>
<text x="399.4" y="577.97">med:tough</text>
<text x="31" y="587.88">0.75, 24/32,</text>
<text x="31" y="594.38">mod:tough,</text>
<text x="31" y="600.88">med:tough</text>
<text x="92.4" y="587.88">0.38, 12/32,</text>
<text x="92.4" y="594.38">mod:moderate,</text>
<text x="92.4" y="600.88">med:moderate</text>
<text x="153.8" y="587.88">0.31, 10/32,</text>
<text x="153.8" y="594.38">mod:moderate,</text>
<text x="153.8" y="600.88">med:moderate</text>
<text x="215.2" y="587.88">0.44, 14/32,</text>
<text x="215.2" y="594.38">mod:tough,</text>
<text x="215.2" y="600.88">med:moderate</text>
<text x="276.6" y="587.88">0.5, 16/32,</text>
<text x="276.6" y="594.38">mod:tough,</text>
<text x="276.6" y="600.88">med:tough</text>
<text x="338" y="587.88">0.34, 11/32,</text>
<text x="338" y="594.38">mod:moderate,</text>
<text x="338" y="600.88">med:moderate</text>
<text x="399.4" y="587.88">0.41, 13/32,</text>
<text x="399.4" y="594.38">mod:moderate,</text>
<text x="399.4" y="600.88">med:moderate</text>
<text x="31" y="610.78">0.66, 37/56,</text>
<text x="31" y="617.28">mod:tough,</text>
<text x="31" y="623.78">med:tough</text>
<text x="92.4" y="610.78">0.46, 26/56,</text>
<text x="92.4" y="617.28">mod:tough,</text>
<text x="92.4" y="623.78">med:moderate</text>
<text x="153.8" y="610.78">0.32, 18/56,</text>
<text x="153.8" y="617.28">mod:moderate,</text>
<text x="153.8" y="623.78">med:moderate</text>
<text x="215.2" y="610.78">0.38, 21/56,</text>
<text x="215.2" y="617.28">mod:tough,</text>
<text x="215.2" y="623.78">med:moderate</text>
<text x="276.6" y="610.78">0.34, 19/56,</text>
<text x="276.6" y="617.28">mod:moderate,</text>
<text x="276.6" y="623.78">med:moderate</text>
<text x="338" y="610.78">0.34, 19/56,</text>
<text x="338" y="617.28">mod:moderate,</text>
<text x="338" y="623.78">med:moderate</text>
<text x="399.4" y="610.78">0.57, 32/56,</text>
<text x="399.4" y="617.28">mod:tough,</text>
<text x="399.4" y="623.78">med:tough</text>
<text x="31" y="633.69">0.6, 55/92,</text>
<text x="31" y="640.19">mod:tough,</text>
<text x="31" y="646.69">med:tough</text>
<text x="92.4" y="633.69">0.41, 38/92,</text>
<text x="92.4" y="640.19">mod:tough,</text>
<text x="92.4" y="646.69">med:tough</text>
<text x="153.8" y="633.69">0.32, 29/92,</text>
<text x="153.8" y="640.19">mod:moderate,</text>
<text x="153.8" y="646.69">med:moderate</text>
<text x="215.2" y="633.69">0.37, 34/92,</text>
<text x="215.2" y="640.19">mod:tough,</text>
<text x="215.2" y="646.69">med:moderate</text>
<text x="276.6" y="633.69">0.41, 38/92,</text>
<text x="276.6" y="640.19">mod:tough,</text>
<text x="276.6" y="646.69">med:tough</text>
<text x="338" y="633.69">0.33, 30/92,</text>
<text x="338" y="640.19">mod:moderate,</text>
<text x="338" y="646.69">med:moderate</text>
<text x="399.4" y="633.69">0.51, 47/92,</text>
<text x="399.4" y="640.19">mod:tough,</text>
<text x="399.4" y="646.69">med:tough</text>
<text x="31" y="656.6">0.71, 32/45,</text>
<text x="31" y="663.1">mod:tough,</text>
<text x="31" y="669.6">med:tough</text>
<text x="92.4" y="656.6">0.42, 19/45,</text>
<text x="92.4" y="663.1">mod:moderate,</text>
<text x="92.4" y="669.6">med:moderate</text>
<text x="153.8" y="656.6">0.33, 15/45,</text>
<text x="153.8" y="663.1">mod:moderate,</text>
<text x="153.8" y="669.6">med:moderate</text>
<text x="215.2" y="656.6">0.38, 17/45,</text>
<text x="215.2" y="663.1">mod:moderate,</text>
<text x="215.2" y="669.6">med:moderate</text>
<text x="276.6" y="656.6">0.49, 22/45,</text>
<text x="276.6" y="663.1">mod:tough,</text>
<text x="276.6" y="669.6">med:tough</text>
<text x="338" y="656.6">0.36, 16/45,</text>
<text x="338" y="663.1">mod:moderate,</text>
<text x="338" y="669.6">med:moderate</text>
<text x="399.4" y="656.6">0.36, 16/45,</text>
<text x="399.4" y="663.1">mod:moderate,</text>
<text x="399.4" y="669.6">med:moderate</text>
<text x="31" y="679.51">0.74, 48/65,</text>
<text x="31" y="686.01">mod:tough,</text>
<text x="31" y="692.51">med:tough</text>
<text x="92.4" y="679.51">0.49, 32/65,</text>
<text x="92.4" y="686.01">mod:tough,</text>
<text x="92.4" y="692.51">med:tough</text>
<text x="153.8" y="679.51">0.35, 23/65,</text>
<text x="153.8" y="686.01">mod:moderate,</text>
<text x="153.8" y="692.51">med:moderate</text>
<text x="215.2" y="679.51">0.46, 30/65,</text>
<text x="215.2" y="686.01">mod:tough,</text>
<text x="215.2" y="692.51">med:tough</text>
<text x="276.6" y="679.51">0.46, 30/65,</text>
<text x="276.6" y="686.01">mod:tough,</text>
<text x="276.6" y="692.51">med:tough</text>
<text x="338" y="679.51">0.34, 22/65,</text>
<text x="338" y="686.01">mod:moderate,</text>
<text x="338" y="692.51">med:moderate</text>
<text x="399.4" y="679.51">0.48, 31/65,</text>
<text x="399.4" y="686.01">mod:tough,</text>
<text x="399.4" y="692.51">med:tough</text>
<text x="31" y="702.42">0.65, 34/52,</text>
<text x="31" y="708.92">mod:tough,</text>
<text x="31" y="715.42">med:tough</text>
<text x="92.4" y="702.42">0.48, 25/52,</text>
<text x="92.4" y="708.92">mod:tough,</text>
<text x="92.4" y="715.42">med:tough</text>
<text x="153.8" y="702.42">0.42, 22/52,</text>
<text x="153.8" y="708.92">mod:tough,</text>
<text x="153.8" y="715.42">med:moderate</text>
<text x="215.2" y="702.42">0.46, 24/52,</text>
<text x="215.2" y="708.92">mod:tough,</text>
<text x="215.2" y="715.42">med:tough</text>
<text x="276.6" y="702.42">0.4, 21/52,</text>
<text x="276.6" y="708.92">mod:tough,</text>
<text x="276.6" y="715.42">med:moderate</text>
<text x="338" y="702.42">0.29, 15/52,</text>
<text x="338" y="708.92">mod:moderate,</text>
<text x="338" y="715.42">med:moderate</text>
<text x="399.4" y="702.42">0.42, 22/52,</text>
<text x="399.4" y="708.92">mod:moderate,</text>
<text x="399.4" y="715.42">med:moderate</text>
<text x="31" y="725.32">0.73, 35/48,</text>
<text x="31" y="731.82">mod:tough,</text>
<text x="31" y="738.32">med:tough</text>
<text x="92.4" y="725.32">0.46, 22/48,</text>
<text x="92.4" y="731.82">mod:tough,</text>
<text x="92.4" y="738.32">med:moderate</text>
<text x="153.8" y="725.32">0.42, 20/48,</text>
<text x="153.8" y="731.82">mod:moderate,</text>
<text x="153.8" y="738.32">med:moderate</text>
<text x="215.2" y="725.32">0.52, 25/48,</text>
<text x="215.2" y="731.82">mod:tough,</text>
<text x="215.2" y="738.32">med:tough</text>
<text x="276.6" y="725.32">0.44, 21/48,</text>
<text x="276.6" y="731.82">mod:tough,</text>
<text x="276.6" y="738.32">med:moderate</text>
<text x="338" y="725.32">0.35, 17/48,</text>
<text x="338" y="731.82">mod:moderate,</text>
<text x="338" y="738.32">med:moderate</text>
<text x="399.4" y="725.32">0.54, 26/48,</text>
<text x="399.4" y="731.82">mod:tough,</text>
<text x="399.4" y="738.32">med:tough</text>
<text x="31" y="748.23">0.64, 28/44,</text>
<text x="31" y="754.73">mod:tough,</text>
<text x="31" y="761.23">med:tough</text>
<text x="92.4" y="748.23">0.34, 15/44,</text>
<text x="92.4" y="754.73">mod:moderate,</text>
<text x="92.4" y="761.23">med:tough</text>
<text x="153.8" y="748.23">0.39, 17/44,</text>
<text x="153.8" y="754.73">mod:moderate,</text>
<text x="153.8" y="761.23">med:moderate</text>
<text x="215.2" y="748.23">0.45, 20/44,</text>
<text x="215.2" y="754.73">mod:tough,</text>
<text x="215.2" y="761.23">med:tough</text>
<text x="276.6" y="748.23">0.55, 24/44,</text>
<text x="276.6" y="754.73">mod:tough,</text>
<text x="276.6" y="761.23">med:tough</text>
<text x="338" y="748.23">0.39, 17/44,</text>
<text x="338" y="754.73">mod:moderate,</text>
<text x="338" y="761.23">med:moderate</text>
<text x="399.4" y="748.23">0.55, 24/44,</text>
<text x="399.4" y="754.73">mod:tough,</text>
<text x="399.4" y="761.23">med:tough</text>
<text x="31" y="771.14">0.63, 40/63,</text>
<text x="31" y="777.64">mod:tough,</text>
<text x="31" y="784.14">med:tough</text>
<text x="92.4" y="771.14">0.49, 31/63,</text>
<text x="92.4" y="777.64">mod:tough,</text>
<text x="92.4" y="784.14">med:tough</text>
<text x="153.8" y="771.14">0.38, 24/63,</text>
<text x="153.8" y="777.64">mod:moderate,</text>
<text x="153.8" y="784.14">med:moderate</text>
<text x="215.2" y="771.14">0.44, 28/63,</text>
<text x="215.2" y="777.64">mod:tough,</text>
<text x="215.2" y="784.14">med:tough</text>
<text x="276.6" y="771.14">0.49, 31/63,</text>
<text x="276.6" y="777.64">mod:tough,</text>
<text x="276.6" y="784.14">med:tough</text>
<text x="338" y="771.14">0.37, 23/63,</text>
<text x="338" y="777.64">mod:moderate,</text>
<text x="338" y="784.14">med:moderate</text>
<text x="399.4" y="771.14">0.59, 37/63,</text>
<text x="399.4" y="777.64">mod:tough,</text>
<text x="399.4" y="784.14">med:tough</text>
<text x="31" y="794.05">0.6, 36/60,</text>
<text x="31" y="800.55">mod:tough,</text>
<text x="31" y="807.05">med:tough</text>
<text x="92.4" y="794.05">0.38, 23/60,</text>
<text x="92.4" y="800.55">mod:tough,</text>
<text x="92.4" y="807.05">med:tough</text>
<text x="153.8" y="794.05">0.32, 19/60,</text>
<text x="153.8" y="800.55">mod:moderate,</text>
<text x="153.8" y="807.05">med:moderate</text>
<text x="215.2" y="794.05">0.43, 26/60,</text>
<text x="215.2" y="800.55">mod:tough,</text>
<text x="215.2" y="807.05">med:moderate</text>
<text x="276.6" y="794.05">0.5, 30/60,</text>
<text x="276.6" y="800.55">mod:tough,</text>
<text x="276.6" y="807.05">med:tough</text>
<text x="338" y="794.05">0.3, 18/60,</text>
<text x="338" y="800.55">mod:moderate,</text>
<text x="338" y="807.05">med:moderate</text>
<text x="399.4" y="794.05">0.52, 31/60,</text>
<text x="399.4" y="800.55">mod:tough,</text>
<text x="399.4" y="807.05">med:tough</text>
</g>
<g font-size="12.27" fill="#000">
<text x="443.3" y="521.7">Predicative, relational, or algebraic</text>
<text x="443.3" y="535.6">specification</text>
<text x="443.3" y="551.56">Modal and temporal logic specification</text>
<text x="443.3" y="574.47">Process models</text>
<text x="443.3" y="597.38">Dynamical systems</text>
<text x="443.3" y="620.28">Abstract interpretation</text>
<text x="443.3" y="643.19">Assertion checking</text>
<text x="443.3" y="666.1">Process calculi</text>
<text x="443.3" y="689.01">Model checking, SMV</text>
<text x="443.3" y="711.92">Constraint solving</text>
<text x="443.3" y="734.82">Generic theorem proving</text>
<text x="443.3" y="757.73">Computational engineering, simulation</text>
<text x="443.3" y="780.64">Symbolic execution</text>
<text x="443.3" y="803.55">Consistency checking</text>
</g>
<g font-size="15.0" fill="#000" text-anchor="end">
<text transform="translate(30.6,823.4) rotate(-90)">Scalability</text>
<text transform="translate(73.7,823.4) rotate(-90)">Proper abstractions</text>
<text transform="translate(92,823.4) rotate(-90)">from irrelevant</text>
<text transform="translate(135.1,823.4) rotate(-90)">Maintainability of</text>
<text transform="translate(153.4,823.4) rotate(-90)">verification results</text>
<text transform="translate(196.5,823.4) rotate(-90)">Reusability of</text>
<text transform="translate(214.8,823.4) rotate(-90)">verification results</text>
<text transform="translate(257.9,823.4) rotate(-90)">Transfer of</text>
<text transform="translate(276.2,823.4) rotate(-90)">verification results</text>
<text transform="translate(319.3,823.4) rotate(-90)">Automation or tool</text>
<text transform="translate(337.6,823.4) rotate(-90)">support</text>
<text transform="translate(399,823.4) rotate(-90)">Skills and education</text>
</g>
<rect x="489.3" y="839.8" width="10.69" height="45.8" fill="#FF1212"/>
<rect x="498.99" y="839.8" width="10.69" height="45.8" fill="#FF2312"/>
<rect x="508.69" y="839.8" width="10.69" height="45.8" fill="#FF3312"/>
<rect x="518.38" y="839.8" width="10.69" height="45.8" fill="#FF4512"/>
<rect x="528.08" y="839.8" width="10.69" height="45.8" fill="#FF5612"/>
<rect x="537.77" y="839.8" width="10.69" height="45.8" fill="#FF6612"/>
<rect x="547.47" y="839.8" width="10.69" height="45.8" fill="#FF7712"/>
<rect x="557.16" y="839.8" width="10.69" height="45.8" fill="#FF8912"/>
<rect x="566.86" y="839.8" width="10.69" height="45.8" fill="#FF9A12"/>
<rect x="576.55" y="839.8" width="10.69" height="45.8" fill="#FFAA12"/>
<rect x="586.25" y="839.8" width="10.69" height="45.8" fill="#FFBB12"/>
<rect x="595.94" y="839.8" width="10.69" height="45.8" fill="#FFCC12"/>
<rect x="605.64" y="839.8" width="10.69" height="45.8" fill="#FFDE12"/>
<rect x="615.33" y="839.8" width="10.69" height="45.8" fill="#FFEE12"/>
<rect x="625.03" y="839.8" width="10.69" height="45.8" fill="#FFFF12"/>
<rect x="634.72" y="839.8" width="10.69" height="45.8" fill="#FFFF30"/>
<rect x="644.42" y="839.8" width="10.69" height="45.8" fill="#FFFF6B"/>
<rect x="654.11" y="839.8" width="10.69" height="45.8" fill="#FFFFA6"/>
<rect x="663.81" y="839.8" width="9.69" height="45.8" fill="#FFFFE1"/>
<rect x="489.3" y="839.8" width="184.2" height="45.8" fill="none" stroke="#000" stroke-width="1.1"/>
<line x1="581.4" y1="885.6" x2="581.4" y2="839.8" stroke="#0FFFFF" stroke-width="1.5" stroke-dasharray="4.08,4.08"/>
<path d="M489.3,885.6 L498.99,885.6 L498.99,885.6 L508.69,885.6 L508.69,885.6 L518.38,885.6 L518.38,885.6 L528.08,885.6 L528.08,878.73 L537.77,878.73 L537.77,874.15 L547.47,874.15 L547.47,842.09 L557.16,842.09 L557.16,851.25 L566.86,851.25 L566.86,844.38 L576.55,844.38 L576.55,858.12 L586.25,858.12 L586.25,874.15 L595.94,874.15 L595.94,876.44 L605.64,876.44 L605.64,876.44 L615.33,876.44 L615.33,876.44 L625.03,876.44 L625.03,881.02 L634.72,881.02 L634.72,885.6 L644.42,885.6 L644.42,885.6 L654.11,885.6 L654.11,885.6 L663.81,885.6 L663.81,885.6 L673.5,885.6 L673.5,885.6" fill="none" stroke="#0FFFFF" stroke-width="1.2"/>
<line x1="489.3" y1="885.6" x2="489.3" y2="839.8" stroke="#000" stroke-width="1.1"/>
<line x1="481.3" y1="885.6" x2="489.3" y2="885.6" stroke="#000" stroke-width="1.1"/>
<line x1="481.3" y1="874.15" x2="489.3" y2="874.15" stroke="#000" stroke-width="1.1"/>
<line x1="481.3" y1="862.7" x2="489.3" y2="862.7" stroke="#000" stroke-width="1.1"/>
<line x1="481.3" y1="851.25" x2="489.3" y2="851.25" stroke="#000" stroke-width="1.1"/>
<line x1="481.3" y1="839.8" x2="489.3" y2="839.8" stroke="#000" stroke-width="1.1"/>
<text transform="translate(471.5,885.6) rotate(-90)" font-size="12.5" text-anchor="middle">0</text>
<text transform="translate(471.5,862.7) rotate(-90)" font-size="12.5" text-anchor="middle">10</text>
<text transform="translate(459.8,862.7) rotate(-90)" font-size="8.3" text-anchor="middle"># Cells</text>
<line x1="489.3" y1="885.6" x2="673.5" y2="885.6" stroke="#000" stroke-width="1.1"/>
<path d="M489.3,885.6 L498.99,885.6 L498.99,885.6 L508.69,885.6 L508.69,885.6 L518.38,885.6 L518.38,885.6 L528.08,885.6 L528.08,878.73 L537.77,878.73 L537.77,874.15 L547.47,874.15 L547.47,842.09 L557.16,842.09 L557.16,851.25 L566.86,851.25 L566.86,844.38 L576.55,844.38 L576.55,858.12 L586.25,858.12 L586.25,874.15 L595.94,874.15 L595.94,876.44 L605.64,876.44 L605.64,876.44 L615.33,876.44 L615.33,876.44 L625.03,876.44 L625.03,881.02 L634.72,881.02 L634.72,885.6 L644.42,885.6 L644.42,885.6 L654.11,885.6 L654.11,885.6 L663.81,885.6 L663.81,885.6 L673.5,885.6 L673.5,885.6" fill="none" stroke="#0FFFFF" stroke-width="1.2"/>
<line x1="489.3" y1="885.6" x2="489.3" y2="893.6" stroke="#000" stroke-width="1.1"/>
<text x="489.3" y="911.9" font-size="12.1" text-anchor="middle">0</text>
<line x1="526.14" y1="885.6" x2="526.14" y2="893.6" stroke="#000" stroke-width="1.1"/>
<text x="526.14" y="911.9" font-size="12.1" text-anchor="middle">0.2</text>
<line x1="562.98" y1="885.6" x2="562.98" y2="893.6" stroke="#000" stroke-width="1.1"/>
<text x="562.98" y="911.9" font-size="12.1" text-anchor="middle">0.4</text>
<line x1="599.82" y1="885.6" x2="599.82" y2="893.6" stroke="#000" stroke-width="1.1"/>
<text x="599.82" y="911.9" font-size="12.1" text-anchor="middle">0.6</text>
<line x1="636.66" y1="885.6" x2="636.66" y2="893.6" stroke="#000" stroke-width="1.1"/>
<text x="636.66" y="911.9" font-size="12.1" text-anchor="middle">0.8</text>
<line x1="673.5" y1="885.6" x2="673.5" y2="893.6" stroke="#000" stroke-width="1.1"/>
<text x="673.5" y="911.9" font-size="12.1" text-anchor="middle">1</text>
<text x="581.5" y="931.1" font-size="12.32" text-anchor="middle">Tough−proportion of all ratings per cell</text>
<text x="581.5" y="829.9" font-size="14.9" font-weight="bold" text-anchor="middle">Key/Histogram of Toughs</text>
</svg>
</body></html>
